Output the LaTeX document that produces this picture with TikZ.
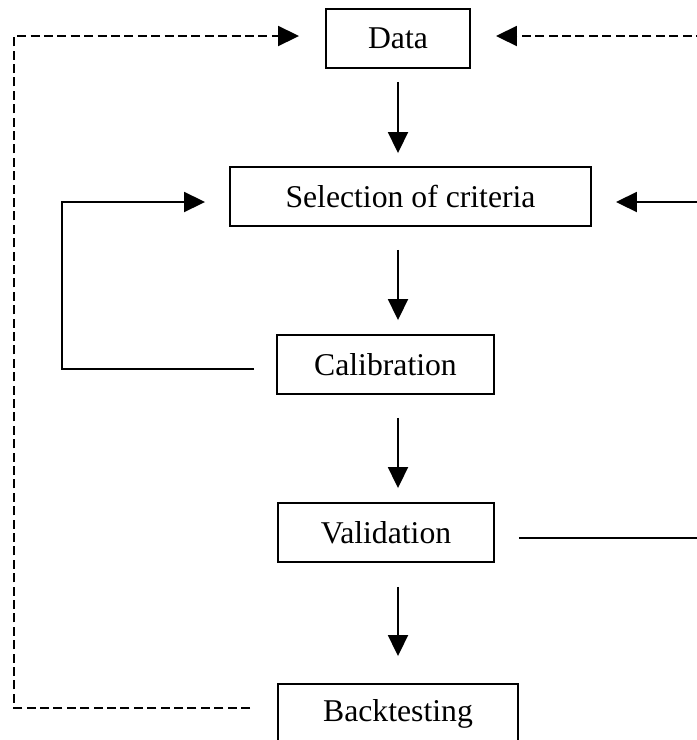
\documentclass[tikz,border=0pt]{standalone}
\usepackage{fontspec}
\setmainfont{Liberation Serif}
\usetikzlibrary{
	positioning,
	calc,
	arrows.meta
}

\begin{document}
\begin{tikzpicture}[
		x=0.5pt, y=-0.5pt,
		framed/.style={draw, line width=0.95pt, minimum height=29.5pt, inner sep=0pt, font=\fontsize{15.85pt}{19pt}\selectfont},
		link/.style={line width=0.95pt},
		flow/.style={link, -{Triangle[length=10.5pt, width=10pt]}},
		dashlink/.style={link, dash pattern=on 4.5pt off 2.2pt},
		dashflow/.style={flow, dash pattern=on 4.5pt off 2.2pt}
	]
		\clip (0,0) rectangle (697,740);

		\node[framed, minimum width=72pt] at(398,38.5) (data) {Data};
		\node[framed, minimum width=180.5pt] at(410.5,196.5) (selection) {Selection of criteria};
		\node[framed, minimum width=108.5pt] at(385.5,364.5) (calibration) {Calibration};
		\node[framed, minimum width=108pt] at(386,532.5) (validation) {Validation};
		\node[framed, minimum width=120pt] at(398,713.5) (backtesting) {Backtesting};

		\coordinate (outer) at (14,0);
		\coordinate (inner) at (62,0);
		\coordinate (edge) at (705,0);

		\coordinate (dataIn) at ($(data.west)+(-26,-2.5)$);
		\coordinate (dataOut) at ($(data.east)+(25,-2.5)$);
		\coordinate (selIn) at ($(selection.west)+(-24,5.5)$);
		\coordinate (selOut) at ($(selection.east)+(24,5.5)$);
		\coordinate (calOut) at ($(calibration.west)+(-22,4.5)$);
		\coordinate (valOut) at ($(validation.east)+(24,5.5)$);
		\coordinate (backOut) at ($(backtesting.west)+(-27,-5.5)$);

		% main chain
		\draw[flow] ($(data.south)+(0,13)$) -- ($(data.south |- selection.north)+(0,-13)$);
		\draw[flow] ($(data.south |- selection.south)+(0,23)$) -- ($(data.south |- calibration.north)+(0,-14)$);
		\draw[flow] ($(data.south |- calibration.south)+(0,23)$) -- ($(data.south |- validation.north)+(0,-14)$);
		\draw[flow] ($(data.south |- validation.south)+(0,24)$) -- ($(data.south |- backtesting.north)+(0,-27)$);

		% feedback loops
		\draw[dashflow] (backOut) -| (outer |- dataIn) -- (dataIn);
		\draw[flow] (calOut) -| (inner |- selIn) -- (selIn);
		\draw[dashflow] (edge |- dataOut) -- (dataOut);
		\draw[flow] (edge |- selOut) -- (selOut);
		\draw[link] (valOut) -- (edge |- valOut);

	\end{tikzpicture}
\end{document}
